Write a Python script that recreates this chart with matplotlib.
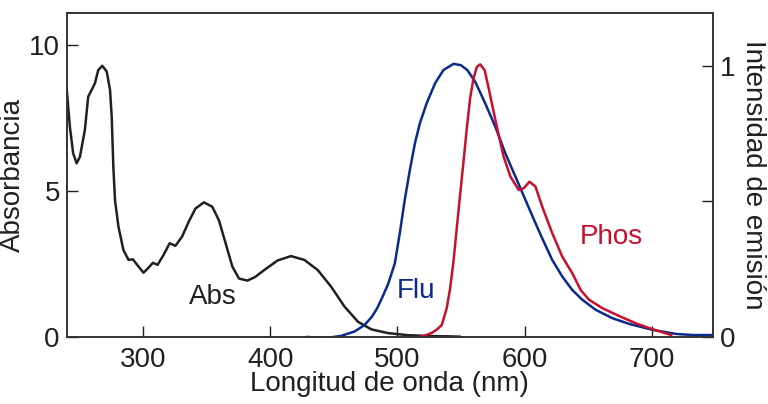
import numpy as np
import matplotlib
matplotlib.use("Agg")
from matplotlib import pyplot as plt

plt.rcParams['font.family'] = ['Liberation Sans', 'DejaVu Sans']

# absorption spectrum (left axis)
abs_nm = [240, 242.4, 245, 247.7, 250.3, 254.2, 256.8, 259.5, 262.1, 264.7, 267.9, 271.4, 274,
          275.3, 276.6, 277.9, 280.6, 284.5, 288.5, 291.9, 296.4, 300.3, 303.8, 307.7, 311.4,
          316.1, 320.9, 325.4, 330.7, 335.9, 341.2, 347.8, 354.4, 359.6, 364.9, 370.2, 375.4,
          382, 388, 395.2, 405.8, 416.3, 426.8, 437.4, 447.9, 458.4, 469, 479.5, 492.7, 508.5,
          527, 540, 549]
abs_val = [8.46, 7.2, 6.29, 5.95, 6.17, 7.09, 8.23, 8.46, 8.69, 9.14, 9.29, 9.09, 8.46,
           7.55, 5.83, 4.69, 3.78, 2.98, 2.64, 2.66, 2.41, 2.2, 2.35, 2.54, 2.47,
           2.81, 3.21, 3.12, 3.44, 3.95, 4.4, 4.61, 4.46, 4.0, 3.21, 2.41, 2.0,
           1.93, 2.05, 2.29, 2.62, 2.77, 2.64, 2.29, 1.72, 1.04, 0.52, 0.26, 0.13, 0.06,
           0.03, 0.02, 0.01]

# fluorescence (right axis)
flu_nm = [429.5, 442.6, 455.8, 466.3, 474.2, 480, 484, 488, 492.7, 498, 501.9, 505.8, 509.8,
          513.8, 517.7, 523, 529.6, 536.2, 544.1, 550, 555, 561.2, 569.1, 577, 584.9,
          592.8, 600.7, 608.6, 613.9, 621.8, 629.7, 637.6, 645.5, 656, 669.2, 682.4, 700.9,
          719.3, 732.5, 748]
flu_val = [0.0, -0.005, 0.004, 0.02, 0.044, 0.075, 0.105, 0.145, 0.195, 0.272, 0.383, 0.506,
           0.616, 0.715, 0.789, 0.862, 0.936, 0.985, 1.008, 1.003, 0.985, 0.942, 0.862,
           0.776, 0.678, 0.592, 0.506, 0.42, 0.364, 0.284, 0.223, 0.173, 0.137, 0.1, 0.069,
           0.048, 0.026, 0.011, 0.007, 0.007]

# phosphorescence (right axis)
phos_nm = [517, 521.7, 527, 531, 534.9, 538.8, 541.5, 544.1, 546.7, 549.3, 552, 554.6, 557.2,
           559.9, 562.5, 565.1, 568.6, 571.8, 575.7, 579.7, 583.6, 588.9, 595.5, 599.4, 603.9,
           608.6, 613.9, 621.8, 629.7, 637.6, 644.2, 650.8, 661.3, 674.5, 687.7, 700.9, 715.4]
phos_val = [0.0, 0.005, 0.015, 0.027, 0.044, 0.106, 0.18, 0.278, 0.401, 0.524, 0.647, 0.77, 0.881,
            0.955, 0.997, 1.006, 0.985, 0.918, 0.831, 0.745, 0.665, 0.592, 0.542, 0.549, 0.573,
            0.555, 0.481, 0.383, 0.296, 0.235, 0.173, 0.137, 0.106, 0.077, 0.05, 0.028, 0.007]

black = '#231f20'
blue = '#0a2a8c'
red = '#c8102e'

fig = plt.figure(figsize=(7.68, 4.04), dpi=100)
ax = fig.add_axes([0.087, 0.166, 0.841, 0.802])
ax2 = ax.twinx()

ax.plot(abs_nm, abs_val, color=black, lw=1.8)
ax2.plot(flu_nm, flu_val, color=blue, lw=1.8)
ax2.plot(phos_nm, phos_val, color=red, lw=1.8)

ax.set_xlim(240, 748)
ax.set_ylim(0, 11.1)
ax2.set_ylim(0, 1.196)

ax.set_xticks([300, 400, 500, 600, 700])
ax.set_yticks([0, 5, 10])
ax2.set_yticks([0, 0.5, 1])
ax2.set_yticklabels(['0', '', '1'])

fs = 20
ax.tick_params(axis='both', direction='in', length=8, width=1, colors=black, labelsize=fs, pad=5)
ax.tick_params(axis='x', pad=7)
ax2.tick_params(axis='y', direction='in', length=8, width=1, colors=black, labelsize=fs, pad=5)
for a in (ax, ax2):
    for s in a.spines.values():
        s.set_color('#333333')
        s.set_linewidth(1.2)

ax.set_xlabel('Longitud de onda (nm)', fontsize=fs, color=black, labelpad=-1)
ax.set_ylabel('Absorbancia', fontsize=fs, color=black, labelpad=2)
ax2.set_ylabel('Intensidad de emisión', fontsize=fs, color=black, rotation=-90, labelpad=22)

ax.text(355, 1.37, 'Abs', fontsize=fs, color=black, ha='center', va='center')
ax2.text(515, 0.17, 'Flu', fontsize=fs, color=blue, ha='center', va='center')
ax2.text(668, 0.37, 'Phos', fontsize=fs, color=red, ha='center', va='center')

fig.savefig('out.png', dpi=100)
